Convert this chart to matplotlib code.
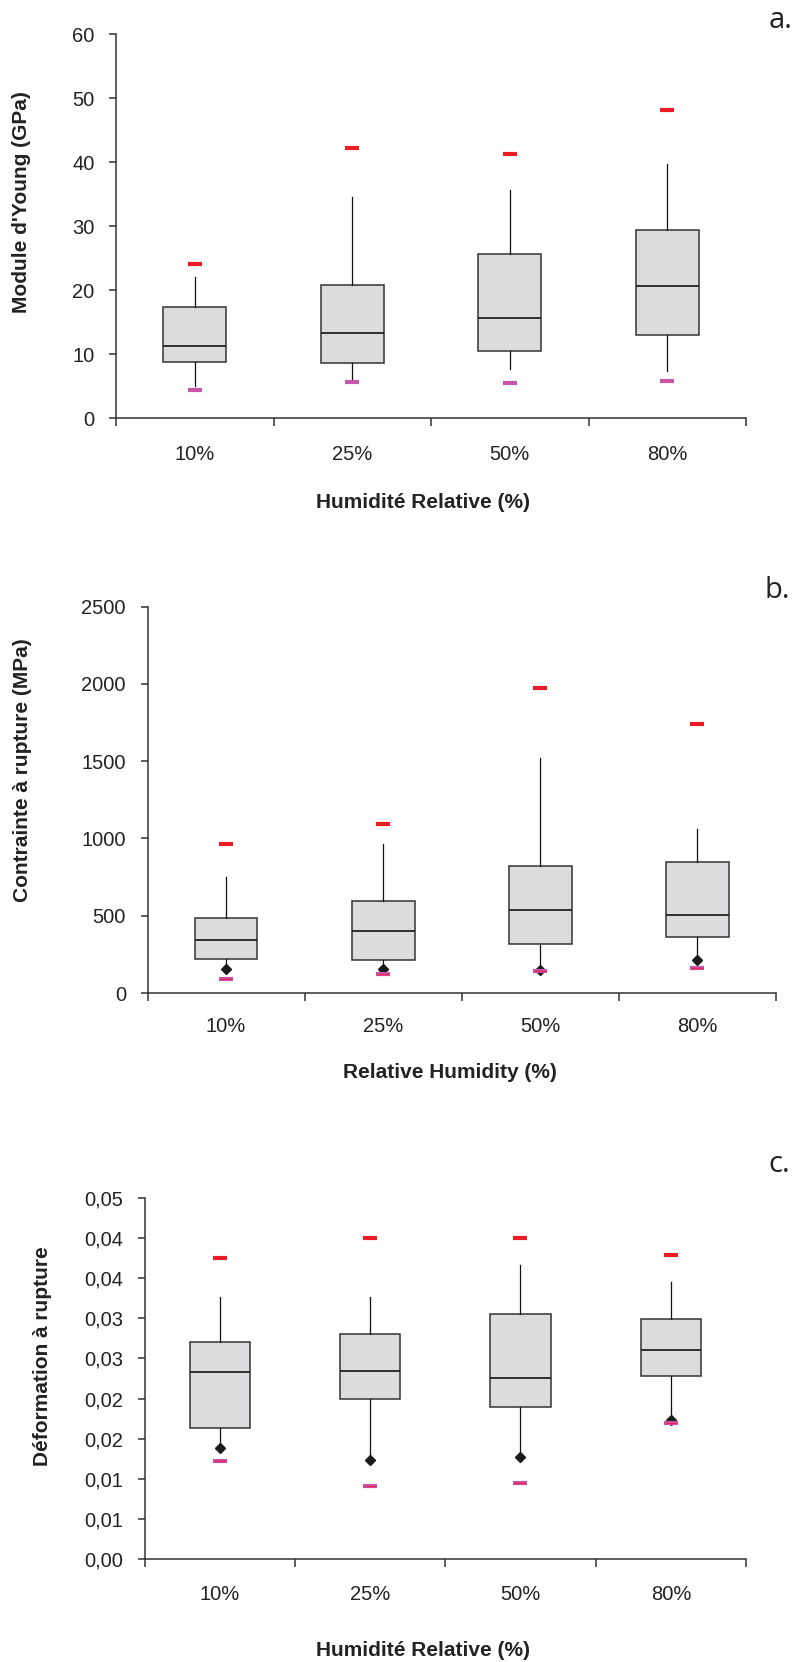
import matplotlib
matplotlib.use("Agg")
import matplotlib.pyplot as plt

# categories (relative humidity)
categories = ["10%", "25%", "50%", "80%"]

# a. Young's modulus (GPa)
a_q1 = [8.85, 8.65, 10.5, 13.0]
a_med = [11.35, 13.4, 15.7, 20.6]
a_q3 = [17.45, 20.8, 25.6, 29.4]
a_whishi = [22.0, 34.6, 35.6, 39.8]
a_whislo = [5.05, 6.0, 7.65, 7.4]
a_max = [24.1, 42.2, 41.35, 48.1]
a_min = [4.43, 5.7, 5.47, 5.9]
a_yticks = [0, 10, 20, 30, 40, 50, 60]
a_yticklabels = ["0", "10", "20", "30", "40", "50", "60"]

# b. stress at rupture (MPa)
b_q1 = [221, 211, 316, 360]
b_med = [344, 404, 534, 507]
b_q3 = [483, 597, 822, 848]
b_whishi = [753, 962, 1519, 1064]
b_whislo = [158, 153, 151, 211]
b_max = [962, 1094, 1977, 1738]
b_min = [91, 125, 142, 160]
b_yticks = [0, 500, 1000, 1500, 2000, 2500]
b_yticklabels = ["0", "500", "1000", "1500", "2000", "2500"]

# c. strain at rupture
c_q1 = [0.0163, 0.0199, 0.0189, 0.0228]
c_med = [0.0233, 0.0234, 0.0226, 0.0261]
c_q3 = [0.0270, 0.0280, 0.0306, 0.0299]
c_whishi = [0.0326, 0.0326, 0.0366, 0.0345]
c_whislo = [0.0138, 0.0124, 0.01275, 0.0173]
c_max = [0.0375, 0.0400, 0.0400, 0.03795]
c_min = [0.01227, 0.0091, 0.00947, 0.01696]
c_yticks = [0.0, 0.005, 0.01, 0.015, 0.02, 0.025, 0.03, 0.035, 0.04, 0.045]
c_yticklabels = ["0,00", "0,01", "0,01", "0,02", "0,02",
                 "0,03", "0,03", "0,04", "0,04", "0,05"]

W, H = 793, 1662
plt.rcParams['font.family'] = ['Liberation Sans', 'DejaVu Sans']
fig = plt.figure(figsize=(W / 100, H / 100), dpi=100)

RED = '#ed1c24'
PINK = '#c855a8'
DARK = '#222222'


def add_axes_px(left, right, top, bottom):
    return fig.add_axes([left / W, 1 - bottom / H, (right - left) / W, (bottom - top) / H])


def panel(ax, q1, med, q3, whislo, whishi, vmax, vmin, yticks, yticklabels,
          diamonds, label_pad):
    pos = list(range(1, len(categories) + 1))
    stats = []
    for i in range(len(categories)):
        stats.append({'q1': q1[i], 'med': med[i], 'q3': q3[i],
                      'whislo': whislo[i], 'whishi': whishi[i], 'fliers': []})
    ax.bxp(stats, positions=pos, widths=0.4, patch_artist=True, showcaps=False,
           manage_ticks=False,
           boxprops=dict(facecolor='#dcdcde', edgecolor='#333333', linewidth=1.1),
           medianprops=dict(color=DARK, linewidth=1.3),
           whiskerprops=dict(color='#111111', linewidth=0.9))
    if diamonds:
        ax.plot(pos, whislo, ls='none', marker='D', ms=5, color='#1a1a1a', clip_on=False)
    ax.plot(pos, vmax, ls='none', marker='_', ms=10, mew=3, color=RED, clip_on=False)
    ax.plot(pos, vmin, ls='none', marker='_', ms=10, mew=3, color=PINK, clip_on=False)
    if diamonds:
        ax.plot(pos, vmin, ls='none', marker='_', ms=9, mew=1, color='#e8245a', clip_on=False)

    ax.set_xlim(0.5, len(categories) + 0.5)
    ax.set_ylim(yticks[0], yticks[-1])
    ax.set_xticks([p - 0.5 for p in pos] + [pos[-1] + 0.5])
    ax.set_xticklabels([])
    ax.set_xticks(pos, minor=True)
    ax.set_xticklabels(categories, minor=True)
    ax.set_yticks(yticks)
    ax.set_yticklabels(yticklabels)
    ax.tick_params(axis='x', which='major', length=6, width=1.1, color='#333333')
    ax.tick_params(axis='x', which='minor', length=0, pad=label_pad,
                   labelsize=14.5, labelcolor=DARK)
    ax.tick_params(axis='y', length=5, width=1.1, color='#333333',
                   labelsize=14.5, labelcolor=DARK, pad=10.5)
    for s in ['top', 'right']:
        ax.spines[s].set_visible(False)
    for s in ['left', 'bottom']:
        ax.spines[s].set_linewidth(1.1)
        ax.spines[s].set_color('#333333')


ax_a = add_axes_px(116, 746, 34.3, 418.3)
panel(ax_a, a_q1, a_med, a_q3, a_whislo, a_whishi, a_max, a_min,
      a_yticks, a_yticklabels, False, 19)

ax_b = add_axes_px(147.5, 776, 606.7, 993)
panel(ax_b, b_q1, b_med, b_q3, b_whislo, b_whishi, b_max, b_min,
      b_yticks, b_yticklabels, True, 17.5)

ax_c = add_axes_px(144.6, 746, 1198, 1559)
panel(ax_c, c_q1, c_med, c_q3, c_whislo, c_whishi, c_max, c_min,
      c_yticks, c_yticklabels, True, 19)


def ftext(x, y, s, **kw):
    fig.text(x / W, 1 - y / H, s, **kw)


lab = dict(fontsize=15, fontweight='bold', color=DARK, ha='center', va='center')
ftext(22, 202, "Module d'Young (GPa)", rotation=90, **lab)
ftext(23, 770, "Contrainte à rupture (MPa)", rotation=90, **lab)
ftext(43, 1356, "Déformation à rupture", rotation=90, **lab)

ftext(423, 503, "Humidité Relative (%)", **lab)
ftext(450, 1073, "Relative Humidity (%)", **lab)
ftext(423, 1650, "Humidité Relative (%)", **lab)

let = dict(fontsize=21, color=DARK, ha='right', va='center', family=['Open Sans', 'DejaVu Sans'])
ftext(792, 20, "a.", **let)
ftext(790, 590, "b.", **let)
ftext(790, 1165, "c.", **let)

fig.savefig("out.png", dpi=100)
